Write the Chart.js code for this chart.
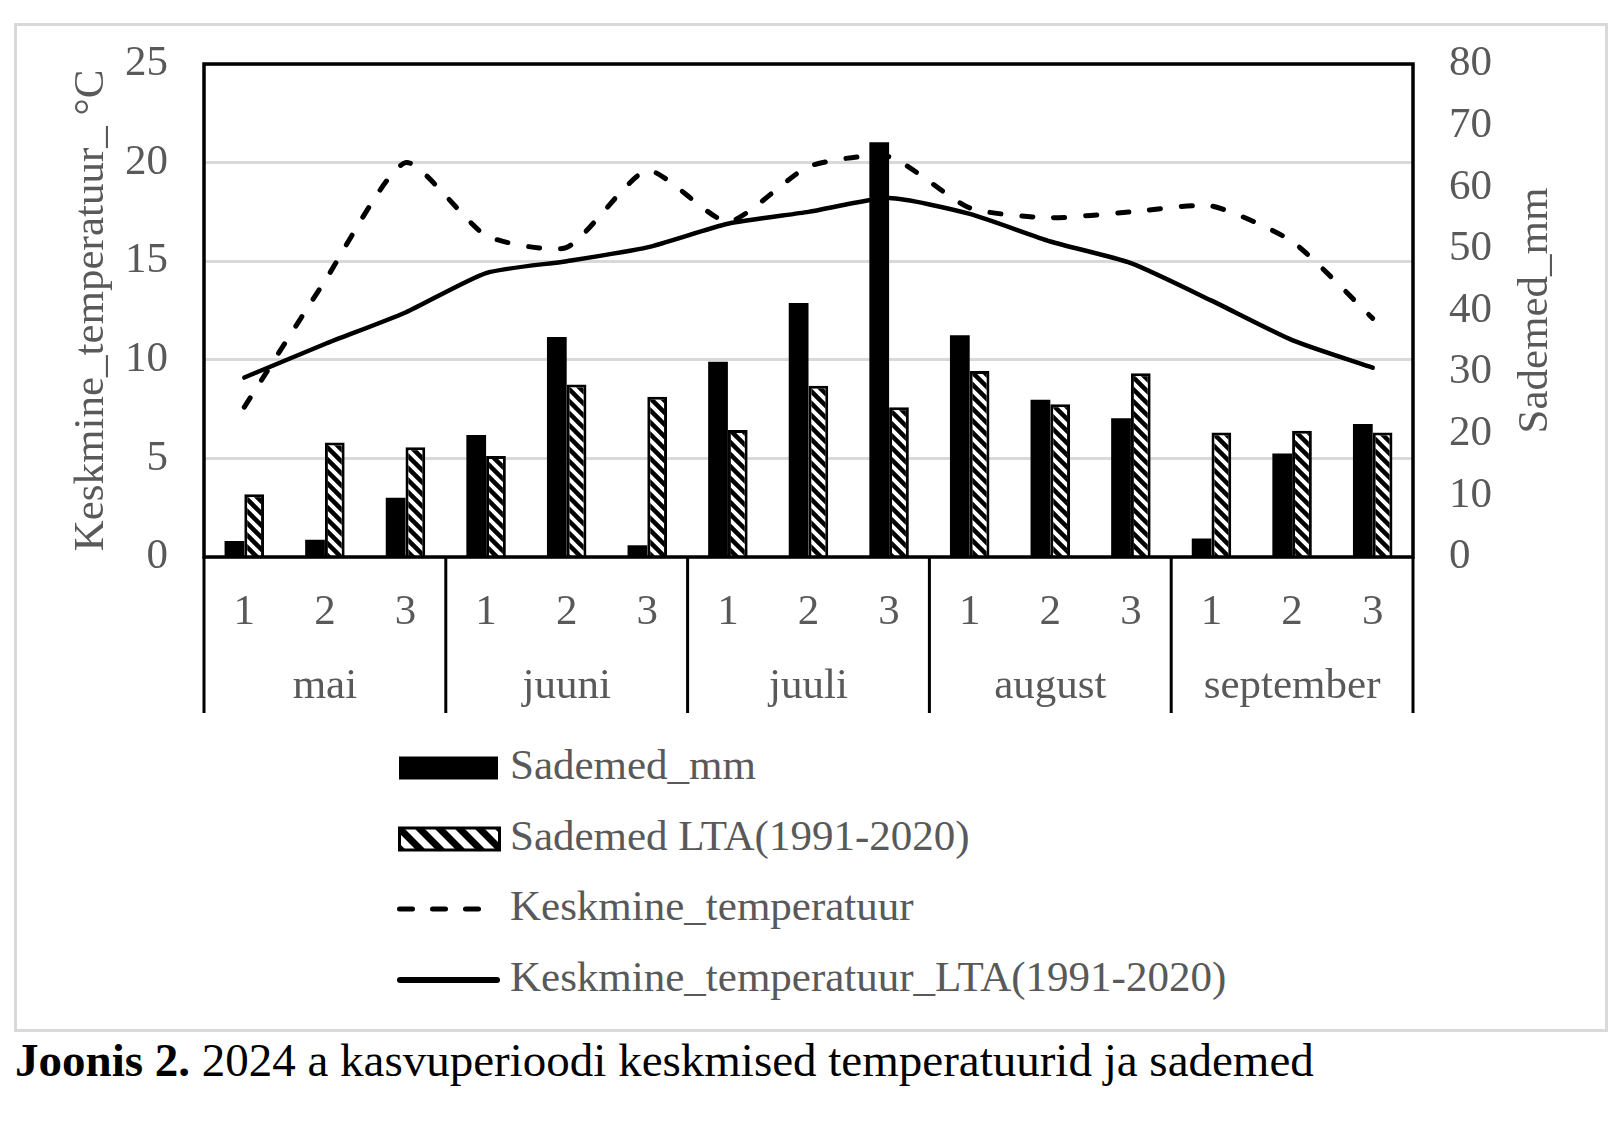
<!DOCTYPE html>
<html>
<head>
<meta charset="utf-8">
<script src="https://cdn.jsdelivr.net/npm/chart.js@4.4.1/dist/chart.umd.min.js"></script>
<style>
  body { margin: 0; width: 1620px; height: 1128px; background: #fff; position: relative; overflow: hidden;
         font-family: 'Liberation Serif', 'Times New Roman', serif; }
  #frame { position: absolute; left: 14px; top: 23px; width: 1594px; height: 1009px;
           border: 3px solid #d9d9d9; box-sizing: border-box; }
  #chartWrap { position: absolute; left: 0; top: 0; width: 1620px; height: 740px; }
  .leg { position: absolute; left: 390px; width: 900px; height: 50px; }
  .leg svg { position: absolute; left: 0; top: 8px; }
  .leg span { position: absolute; left: 120px; top: 0; font-size: 43px; line-height: 50px;
              color: #595959; white-space: nowrap; }
  #caption { position: absolute; left: 15px; top: 1037px; font-size: 47px; line-height: 47px;
             color: #000; white-space: nowrap; }
</style>
</head>
<body>
<div id="frame"></div>
<div id="chartWrap"><canvas id="weatherChart" width="1620" height="740"></canvas></div>

<div class="leg" style="top:740px">
  <svg width="120" height="40"><rect x="9" y="8.5" width="99" height="23" fill="#000"/></svg>
  <span>Sademed_mm</span>
</div>
<div class="leg" style="top:811px">
  <svg width="120" height="40">
    <defs>
      <pattern id="legStripes" patternUnits="userSpaceOnUse" width="20" height="20">
        <rect width="20" height="20" fill="#fff"/>
        <path d="M-25,-5 L5,25 M-5,-5 L25,25 M15,-5 L45,25" stroke="#000" stroke-width="7"/>
      </pattern>
    </defs>
    <rect x="9.5" y="9" width="100" height="22" fill="url(#legStripes)" stroke="#000" stroke-width="3"/>
  </svg>
  <span>Sademed LTA(1991-2020)</span>
</div>
<div class="leg" style="top:881px">
  <svg width="120" height="40"><line x1="9.5" y1="20" x2="90" y2="20" stroke="#000" stroke-width="5"
       stroke-linecap="round" stroke-dasharray="13 20"/></svg>
  <span>Keskmine_temperatuur</span>
</div>
<div class="leg" style="top:952px">
  <svg width="120" height="40"><line x1="10" y1="20" x2="107" y2="20" stroke="#000" stroke-width="6"
       stroke-linecap="round"/></svg>
  <span>Keskmine_temperatuur_LTA(1991-2020)</span>
</div>

<div id="caption"><b>Joonis 2.</b> 2024 a kasvuperioodi keskmised temperatuurid ja sademed</div>

<script>
// dekaadid (1, 2, 3) iga kuu kohta
const months = ['mai', 'juuni', 'juuli', 'august', 'september'];
const decades = ['1', '2', '3', '1', '2', '3', '1', '2', '3', '1', '2', '3', '1', '2', '3'];

// sademed, mm (parem telg)
const sademed = [2.6, 2.8, 9.6, 19.8, 35.7, 1.9, 31.7, 41.2, 67.3, 36.0, 25.5, 22.5, 3.0, 16.8, 21.6];
const sademedLTA = [10.2, 18.6, 17.8, 16.4, 28.0, 26.0, 20.6, 27.8, 24.3, 30.2, 24.8, 29.8, 20.2, 20.5, 20.2];

// keskmine temperatuur, °C (vasak telg)
const temp = [7.6, 14.0, 20.0, 16.3, 15.7, 19.6, 17.0, 19.8, 20.3, 17.7, 17.2, 17.5, 17.8, 16.0, 12.1];
const tempLTA = [9.1, 10.8, 12.4, 14.4, 15.0, 15.7, 16.9, 17.5, 18.2, 17.4, 16.0, 14.9, 13.0, 11.0, 9.6];

const tempTicks = { min: 0, max: 25, step: 5 };
const rainTicks = { min: 0, max: 80, step: 10 };

const FONT = "'Liberation Serif', 'Times New Roman', serif";
const GREY = '#595959';

function stripePattern() {
    const c = document.createElement('canvas');
    c.width = 12;
    c.height = 12;
    const g = c.getContext('2d');
    g.fillStyle = '#fff';
    g.fillRect(0, 0, 12, 12);
    g.strokeStyle = '#000';
    g.lineWidth = 4.5;
    for (const k of [-12, 0, 12]) {
        g.beginPath();
        g.moveTo(k - 3, -3);
        g.lineTo(k + 15, 15);
        g.stroke();
    }
    return g.createPattern(c, 'repeat');
}

// raam ümber joonise ala, kuude eraldusjooned ja parem telje pealkiri
const framePlugin = {
    id: 'frame',
    afterDatasetsDraw(chart) {
        const { ctx, chartArea: a, scales } = chart;
        ctx.save();
        ctx.strokeStyle = '#000';
        ctx.lineWidth = 3.5;
        ctx.strokeRect(a.left, a.top, a.right - a.left, a.bottom - a.top);
        const bottom = scales.x2.bottom;
        ctx.lineWidth = 3;
        ctx.beginPath();
        for (let m = 0; m <= months.length; m++) {
            const px = a.left + m * (a.right - a.left) / months.length;
            ctx.moveTo(px, a.bottom);
            ctx.lineTo(px, bottom);
        }
        ctx.stroke();
        ctx.fillStyle = GREY;
        ctx.font = '43px ' + FONT;
        ctx.textAlign = 'center';
        ctx.textBaseline = 'middle';
        ctx.translate(a.right + 123, (a.top + a.bottom) / 2);
        ctx.rotate(-Math.PI / 2);
        ctx.fillText('Sademed_mm', 0, 0);
        ctx.restore();
    }
};

document.addEventListener('DOMContentLoaded', function () {
    const ctx = document.getElementById('weatherChart').getContext('2d');
    const tickFont = { family: FONT, size: 43 };

    new Chart(ctx, {
        type: 'bar',
        data: {
            labels: decades,
            datasets: [{
                type: 'line',
                label: 'Keskmine_temperatuur',
                data: temp,
                yAxisID: 'y',
                borderColor: '#000',
                borderWidth: 5,
                borderDash: [11, 21],
                borderCapStyle: 'round',
                borderJoinStyle: 'round',
                pointRadius: 0,
                tension: 0.2,
                fill: false,
                order: 0
            }, {
                type: 'line',
                label: 'Keskmine_temperatuur_LTA(1991-2020)',
                data: tempLTA,
                yAxisID: 'y',
                borderColor: '#000',
                borderWidth: 4.5,
                borderCapStyle: 'round',
                borderJoinStyle: 'round',
                pointRadius: 0,
                tension: 0.2,
                fill: false,
                order: 0
            }, {
                label: 'Sademed_mm',
                data: sademed,
                yAxisID: 'y2',
                backgroundColor: '#000',
                borderWidth: 0,
                categoryPercentage: 0.49,
                barPercentage: 1,
                order: 1
            }, {
                label: 'Sademed LTA(1991-2020)',
                data: sademedLTA,
                yAxisID: 'y2',
                backgroundColor: stripePattern(),
                borderColor: '#000',
                borderWidth: 3,
                categoryPercentage: 0.49,
                barPercentage: 1,
                order: 1
            }]
        },
        options: {
            responsive: false,
            animation: false,
            devicePixelRatio: 1,
            layout: { padding: { left: 60, right: 60, top: 64, bottom: 27 } },
            plugins: {
                legend: { display: false },
                tooltip: { enabled: false }
            },
            scales: {
                x: {
                    type: 'category',
                    position: 'bottom',
                    weight: 0,
                    offset: true,
                    grid: { display: false, drawTicks: false },
                    border: { display: false },
                    ticks: { autoSkip: false, maxRotation: 0, padding: 30, color: GREY, font: tickFont },
                    afterFit: function (s) { s.height = 82; }
                },
                x2: {
                    type: 'category',
                    labels: months,
                    position: 'bottom',
                    weight: 1,
                    offset: true,
                    grid: { display: false, drawTicks: false },
                    border: { display: false },
                    ticks: { autoSkip: false, maxRotation: 0, padding: 22, color: GREY, font: tickFont },
                    afterFit: function (s) { s.height = 74; }
                },
                y: {
                    position: 'left',
                    min: tempTicks.min,
                    max: tempTicks.max,
                    ticks: { stepSize: tempTicks.step, padding: 36, color: GREY, font: tickFont },
                    grid: { color: '#d9d9d9', lineWidth: 3, drawTicks: false },
                    border: { display: false },
                    title: {
                        display: true,
                        text: 'Keskmine_temperatuur_ °C',
                        color: GREY,
                        font: tickFont,
                        padding: { top: 6, bottom: 0 }
                    },
                    afterFit: function (s) { s.width = 144; }
                },
                y2: {
                    position: 'right',
                    min: rainTicks.min,
                    max: rainTicks.max,
                    ticks: { stepSize: rainTicks.step, padding: 36, color: GREY, font: tickFont },
                    grid: { drawOnChartArea: false, drawTicks: false },
                    border: { display: false },
                    afterFit: function (s) { s.width = 147; }
                }
            }
        },
        plugins: [framePlugin]
    });
});
</script>
</body>
</html>
